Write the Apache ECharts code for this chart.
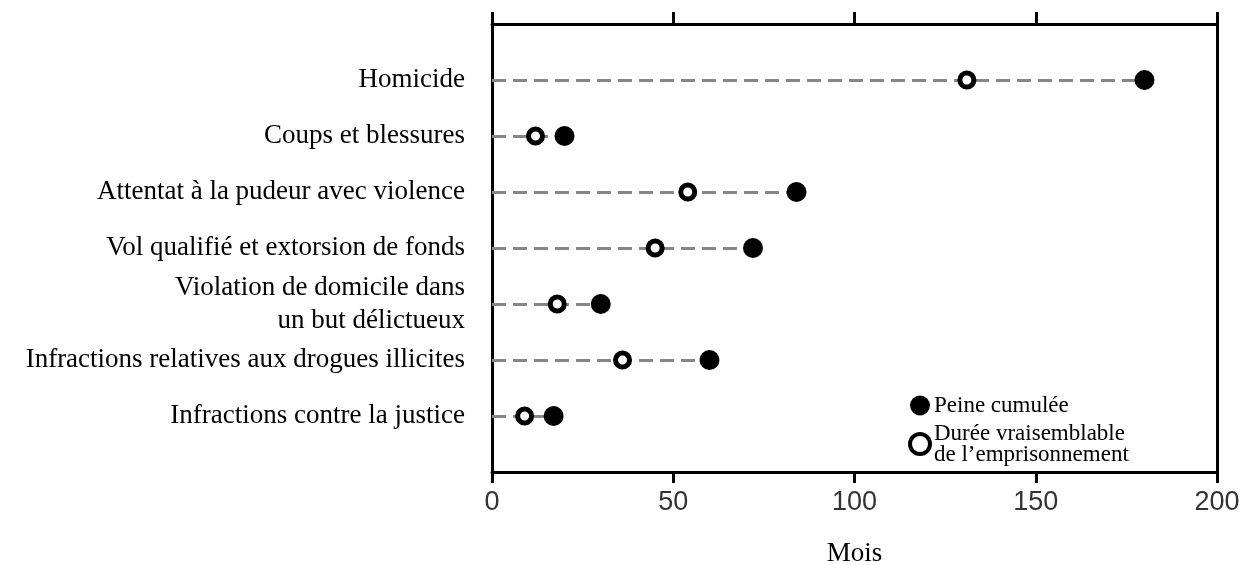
<!DOCTYPE html>
<html>
<head>
<meta charset="utf-8">
<script src="https://cdn.jsdelivr.net/npm/echarts@6/dist/echarts.min.js"></script>
<style>
  html, body { margin: 0; padding: 0; background: #fff; }
  #chart { width: 1248px; height: 565px; }
</style>
</head>
<body>
<div id="chart"></div>
<script>
// rows, top to bottom
const categories = [
    'Homicide',
    'Coups et blessures',
    'Attentat à la pudeur avec violence',
    'Vol qualifié et extorsion de fonds',
    'Violation de domicile dans\nun but délictueux',
    'Infractions relatives aux drogues illicites',
    'Infractions contre la justice'
];
// months
const cumulative = [180, 20, 84, 72, 30, 60, 17];
const probable = [131, 12, 54, 45, 18, 36, 9];
const xTicks = [0, 50, 100, 150, 200];

const nameCumul = 'Peine cumulée';
const nameProbable = 'Durée vraisemblable\nde l’emprisonnement';

function drawDotChart() {
    const myChart = echarts.init(document.getElementById('chart'), null, {
        renderer: 'canvas'
    });
    const serif = '"Liberation Serif", "Times New Roman", serif';
    const axisStyle = { color: '#000', width: 3 };

    const option = {
        animation: false,
        backgroundColor: '#fff',
        grid: {
            left: 492,
            right: 31,
            top: 24,
            bottom: 93,
            containLabel: false,
            outerBoundsMode: 'none'
        },
        legend: {
            orient: 'vertical',
            left: 908,
            top: 394,
            itemWidth: 20,
            itemHeight: 20,
            itemGap: 5,
            padding: 0,
            data: [
                { name: nameCumul, itemStyle: { color: '#000', opacity: 1 } },
                { name: nameProbable, itemStyle: { color: '#fff', borderColor: '#000', borderWidth: 4, opacity: 1 } }
            ],
            textStyle: {
                fontFamily: serif,
                fontSize: 23,
                lineHeight: 21,
                color: '#000',
                padding: [0, 0, 0, -1]
            }
        },
        xAxis: [{
            type: 'value',
            position: 'bottom',
            min: xTicks[0],
            max: xTicks[xTicks.length - 1],
            interval: 50,
            name: 'Mois',
            nameLocation: 'middle',
            nameGap: 68,
            nameTextStyle: {
                fontFamily: serif,
                fontSize: 27,
                color: '#000'
            },
            splitLine: { show: false },
            axisLine: { onZero: false, lineStyle: axisStyle },
            axisTick: { inside: false, length: 11, lineStyle: axisStyle },
            axisLabel: {
                margin: 17,
                fontFamily: '"Liberation Sans", Arial, sans-serif',
                fontSize: 27,
                color: '#333'
            }
        }, {
            type: 'value',
            position: 'top',
            min: xTicks[0],
            max: xTicks[xTicks.length - 1],
            interval: 50,
            splitLine: { show: false },
            axisLine: { onZero: false, lineStyle: axisStyle },
            axisTick: { inside: false, length: 12, lineStyle: axisStyle },
            axisLabel: { show: false }
        }],
        yAxis: [{
            type: 'value',
            position: 'left',
            inverse: true,
            min: 0,
            max: categories.length + 1,
            interval: 1,
            splitLine: { show: false },
            axisLine: { show: true, onZero: false, lineStyle: axisStyle },
            axisTick: { show: false },
            axisLabel: {
                margin: 27,
                fontFamily: serif,
                fontSize: 27,
                lineHeight: 33,
                color: '#000',
                align: 'right',
                formatter: function (v) {
                    return categories[v - 1] || '';
                }
            }
        }, {
            type: 'value',
            position: 'right',
            inverse: true,
            min: 0,
            max: categories.length + 1,
            interval: 1,
            splitLine: { show: false },
            axisLine: { show: true, onZero: false, lineStyle: axisStyle },
            axisTick: { show: false },
            axisLabel: { show: false }
        }],
        series: [{
            // dashed guide from 0 to the cumulative sentence
            name: 'guide',
            type: 'line',
            data: [],
            z: 1,
            markLine: {
                silent: true,
                z: 1,
                symbol: ['none', 'none'],
                label: { show: false },
                lineStyle: { color: '#878787', width: 3, type: [14, 7], opacity: 1 },
                data: cumulative.map(function (v, i) {
                    return [{ coord: [0, i + 1] }, { coord: [v, i + 1] }];
                })
            }
        }, {
            name: nameCumul,
            type: 'scatter',
            symbol: 'circle',
            symbolSize: 20,
            z: 3,
            itemStyle: { color: '#000', opacity: 1 },
            data: cumulative.map(function (v, i) { return [v, i + 1]; })
        }, {
            name: nameProbable,
            type: 'scatter',
            symbol: 'circle',
            symbolSize: 14,
            z: 4,
            itemStyle: { color: '#fff', borderColor: '#000', borderWidth: 5, opacity: 1 },
            data: probable.map(function (v, i) { return [v, i + 1]; })
        }]
    };
    myChart.setOption(option);
}

drawDotChart();
</script>
</body>
</html>
